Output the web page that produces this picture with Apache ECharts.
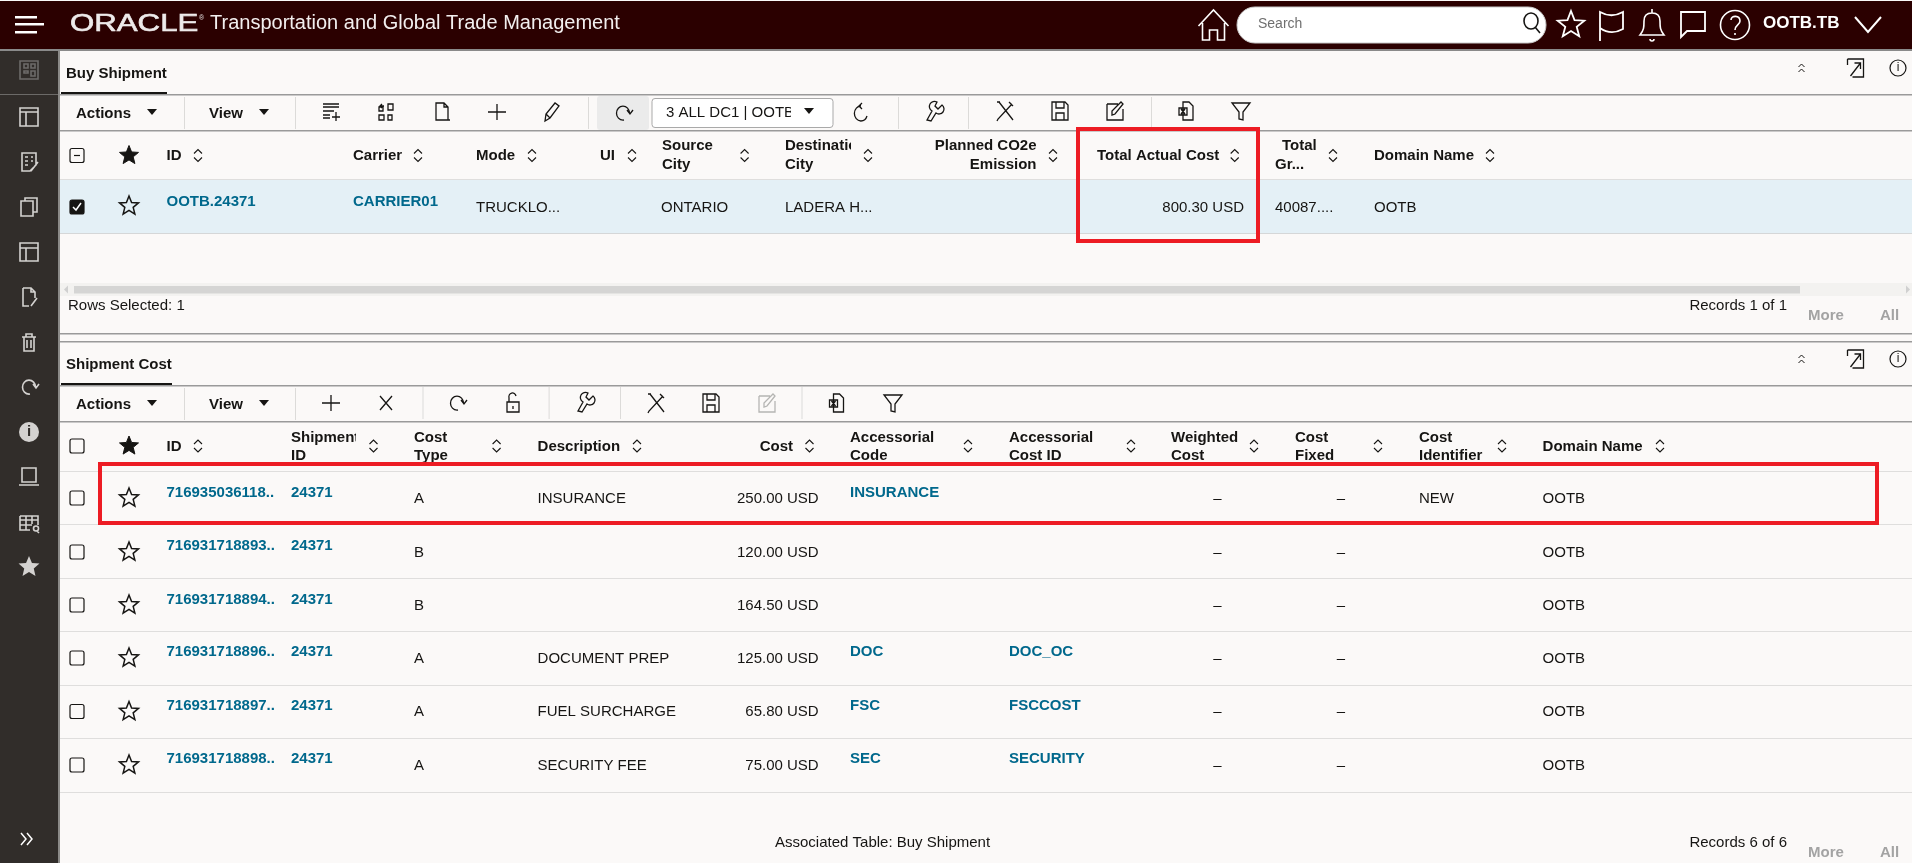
<!DOCTYPE html>
<html><head><meta charset="utf-8">
<style>html,body{margin:0;padding:0;background:#fbf9f8}#c{width:1912px;height:863px}</style>
<script src="https://cdn.jsdelivr.net/npm/echarts@6/dist/echarts.min.js"></script>
</head><body><div id="c"></div>
<script>
// ---------- content ----------
const appTitle = "Transportation and Global Trade Management";
const userName = "OOTB.TB";
const buyHeaders = [["ID"],["Carrier"],["Mode"],["UI"],["Source","City"],["Destinatio","City"],["Planned CO2e","Emission"],["Total Actual Cost"],["Total","Gr..."],["Domain Name"]];
const buyRow = ["OOTB.24371","CARRIER01","TRUCKLO...","","ONTARIO","LADERA H...","","800.30 USD","40087....","OOTB"];
const costHeaders = [["ID"],["Shipment","ID"],["Cost","Type"],["Description"],["Cost"],["Accessorial","Code"],["Accessorial","Cost ID"],["Weighted","Cost"],["Cost","Fixed"],["Cost","Identifier"],["Domain Name"]];
const costIds = ["716935036118..","716931718893..","716931718894..","716931718896..","716931718897..","716931718898.."];
const costShipment = ["24371","24371","24371","24371","24371","24371"];
const costTypes = ["A","B","B","A","A","A"];
const costDescriptions = ["INSURANCE","","","DOCUMENT PREP","FUEL SURCHARGE","SECURITY FEE"];
const costValues = ["250.00 USD","120.00 USD","164.50 USD","125.00 USD","65.80 USD","75.00 USD"];
const accessorialCodes = ["INSURANCE","","","DOC","FSC","SEC"];
const accessorialCostIds = ["","","","DOC_OC","FSCCOST","SECURITY"];
const weightedCost = ["–","–","–","–","–","–"];
const costFixed = ["–","–","–","–","–","–"];
const costIdentifier = ["NEW","","","","",""];
const costDomain = ["OOTB","OOTB","OOTB","OOTB","OOTB","OOTB"];

// ---------- layout ----------
const F = '"Liberation Sans", Arial, sans-serif';
const C = {bar:'#2b0000', side:'#312d2a', bg:'#fbf9f8', ink:'#161513', link:'#00688c', line:'#9a9a9a', row:'#dfdedd', sel:'#e4f0f6', red:'#ed1c24', sideIcon:'#d4d2d0', mute:'#a3a3a3'};
const els = [];
const shapeCache={};
function shapeFor(d){
  if(!shapeCache[d]){
    const n='svgicon'+Object.keys(shapeCache).length;
    echarts.graphic.registerShape(n,echarts.graphic.extendPath(d,{}));
    shapeCache[d]=n;
  }
  return shapeCache[d];
}
const rect=(x,y,w,h,fill,extra={},r=0)=>els.push({type:'rect',shape:{x,y,width:w,height:h,r},style:Object.assign({fill},extra),silent:true});
const T=(x,y,text,o={})=>els.push({type:'text',x,y:y+0.8,scaleX:o.sx||1,style:Object.assign({text,x:0,y:0,fill:o.color||C.ink,font:`${o.bold?'bold ':''}${o.size||15}px ${F}`,textAlign:o.align||'left',textVerticalAlign:'middle'},o.stroke?{stroke:o.stroke,lineWidth:o.lw||0.7}:{}),silent:true});
const P=(x,y,d,o={})=>els.push({type:shapeFor(d),x,y,shape:{},style:{fill:o.fill||'none',stroke:o.stroke===undefined?C.ink:o.stroke,lineWidth:o.lw||1.3},silent:true});
const starPath=(R,r)=>{let s='';for(let i=0;i<10;i++){const a=-Math.PI/2+i*Math.PI/5,q=i%2?r:R;s+=(i?'L':'M')+(q*Math.cos(a)).toFixed(2)+','+(q*Math.sin(a)).toFixed(2);}return s+'Z';};
const I={
 plus:'M-9,0H9M0,-8V8', x:'M-6,-7L6,7M6,-7L-6,7',
 addrow:'M-8,-8H8M-8,-5H8M-8,-1H3M-8,3H-1M-8,6H-1M5,0V9M1,5H9',
 swap:'M-7,-1V-5H-3V-1ZM2,-8H7V-2H2ZM-7,3H-2V8H-7ZM2,3H6V8H2ZM-2,-6H-6M-4,-8L-6,-6L-4,-4',
 doc:'M-6,-9H2L6,-5V8H-6ZM2,-9V-5H6M3,8H8',
 pencil:'M-7,9L-6,2L3,-9L7,-6L-2,6ZM-6,2L-2,6',
 refresh:'M6.5,0A6.5,7 0 1 0 1,7M4,-3L7,1L10,-3',
 reset2:'M0,-7A6.5,7.5 0 1 0 6,3M1,-10L-2,-7L1,-4',
 wrench:'M-7,9L-2,0A5,5 0 0 1 3,-9L1,-5L4,-2L8,-6A5,5 0 0 1 2,2L-3,10Z',
 tools:'M-6,-9L8,9M7,-7L-7,8L-8,10M4,-9L8,-5M-8,-9L-5,-9',
 save:'M-8,-9H5L8,-6V9H-8ZM-4,-9V-3H4V-9M-4,9V2H4V9',
 edit:'M-8,-7H3M-8,-7V9H8V-2M-3,4L-3,0L6,-9L8,-7L0,3Z',
 exportx:'M-3,-9H3L7,-5V9H-3ZM-7,-3H1V4H-7ZM-5,-2L-1,3M-1,-2L-5,3',
 filter:'M-9,-8H9L2,1V9L-2,8V1Z',
 lock:'M-6,-1H6V9H-6ZM-4,-1V-5A3.5,4 0 0 1 3,-7M0,3V6',
 collapse:'M-3,-1L0,-4L3,-1M-3,4L0,1L3,4',
 popout:'M-8,-9H8V9H-3M-8,-9V-3M-5,8L5,-5M-1,-5H5V1',
 sort:'M-4,-2L0,-6L4,-2M-4,2L0,6L4,2',
 home:'M-15,1L0,-15L15,1M-11,-2V15H-4V5H4V15H11V-2',
 mag:'M7,0A7,8 0 1 0 -7,0A7,8 0 1 0 7,0M4,6L9,12',
 flag:'M-11,16V-13C-4,-9 3,-8 12,-13V4C3,9 -4,8 -11,3',
 bell:'M-12,10H12C8,5 8,2 8,-4C8,-10 4,-12 0,-12C-4,-12 -8,-10 -8,-4C-8,2 -8,5 -12,10ZM0,-16V-12M-2,14A2,2 0 0 0 2,14',
 chat:'M-12,-12H12V7H-6L-12,13Z',
 help:'M-4,-5C-4,-10 5,-10 5,-4C5,0 0,0 0,5M0,8V10',
 side1:'M-9,-9H9V9H-9ZM-5,-6H-1V-2H-5ZM2,-6H6V-2H2ZM-5,1H-1V3H-5ZM2,1H6V6H2Z',
 side2:'M-9,-9H9V9H-9ZM-9,-5H9M-3,-5V9',
 side3:'M-7,-9H7V3L1,9H-7ZM-4,-5H-1M2,-5H4M-4,-1H-1M2,-1H4M-4,3H-1M2,9L9,0',
 side4:'M-8,-6H4V9H-8ZM-4,-6V-9H8V5H4',
 side5:'M-9,-9H9V9H-9ZM-9,-4H9M-3,-4V9',
 side6:'M-6,-9H2L6,-5V1M-6,-9V9H0M2,-9V-5H6M2,9L8,1',
 trash:'M-7,-5H7M-5,-5V9H5V-5M-2,-2V6M2,-2V6M-3,-5V-8H3V-5',
 monitor:'M-7,-9H7V5H-7ZM-10,8H10',
 tsearch:'M-9,-7H9V2M-9,-7V7H1M-9,-3H9M-9,2H3M-3,-7V7M3,-7V1M7,8A2.5,2.5 0 1 1 7,3A2.5,2.5 0 1 1 7,8M8,8L10,10',
 dblr:'M-5,-6L0,0L-5,6M1,-6L6,0L1,6'
};
const icon=(n,x,y,o)=>P(x,y,I[n],o);
const sep=(x,y)=>rect(x,y-16,1,32,'#dcdbd9');
const caret=(x,y)=>P(x,y,'M-5,-3H5L0,3Z',{fill:C.ink,stroke:null});
const sortIcon=(x,y)=>icon('sort',x,y,{lw:1.1});
const star=(x,y,filled)=>P(x,y,starPath(10,4.4),filled?{fill:C.ink,lw:1}:{lw:1.5});
const checkbox=(x,y,o={})=>{
  els.push({type:'rect',shape:{x:x-7,y:y-7,width:14,height:14,r:2},style:{fill:o.checked?C.ink:'none',stroke:C.ink,lineWidth:1.2},silent:true});
  if(o.minus)P(x,y,'M-3,0H3',{lw:1.2});
  if(o.checked)P(x,y,'M-4,0L-1,3L4,-4',{stroke:'#fff',lw:1.5});
};
const header=(x,lines,yc,lh,o={})=>{
  if(lines.length===1)T(x,yc,lines[0],{bold:true,align:o.align});
  else{T(x,yc-lh/2,lines[0],{bold:true,align:o.align});T(x,yc+lh/2,lines[1],{bold:true,align:o.align});}
};

// background + chrome
rect(0,0,1912,863,C.bg);
rect(0,1,1912,48,C.bar);
rect(0,49,1912,2,'#8a8a8a');
rect(0,51,58,812,C.side);
rect(58,51,2,812,'#8b8a88');
rect(0,94,58,1,'#6c6a68');
rect(15,16,22,2.5,'#fff');rect(15,23,29,2.5,'#fff');rect(15,31,22,2.5,'#fff');
T(70,23.5,'ORACLE',{size:24,color:'#eeeaea',sx:1.3,stroke:'#eeeaea',lw:0.6});
T(199,17,'®',{size:7,color:'#e6e1e1'});
T(210,23,appTitle,{size:20,color:'#f2eeee'});
icon('home',1213.5,25,{stroke:'#fff',lw:1.6});
els.push({type:'rect',shape:{x:1237,y:7,width:309,height:36,r:18},style:{fill:'#fff',stroke:'#c9c9c9',lineWidth:1},silent:true});
T(1258,23,'Search',{size:14,color:'#6f6f6f'});
P(1531,21,I.mag,{lw:1.6});
P(1571,25,starPath(14,6),{stroke:'#fff',lw:1.8});
icon('flag',1611,25,{stroke:'#fff',lw:1.8});
icon('bell',1652,25,{stroke:'#fff',lw:1.6});
icon('chat',1693,24,{stroke:'#fff',lw:1.8});
els.push({type:'circle',shape:{cx:1735,cy:25,r:14.5},style:{fill:'none',stroke:'#fff',lineWidth:1.6},silent:true});
icon('help',1735,25,{stroke:'#fff',lw:1.6});
T(1763,23,userName,{size:17,bold:true,color:'#fff'});
P(1868,24,'M-13,-7L0,8L13,-7',{stroke:'#fff',lw:2});

// sidebar
const sideIcons=[['side1',70,'#6d6b69'],['side2',117],['side3',162],['side4',207],['side5',252],['side6',297],['trash',342],['refresh',387],null,['monitor',477],['tsearch',523]];
sideIcons.forEach(s=>{if(s)icon(s[0],29,s[1],{stroke:s[2]||C.sideIcon,lw:1.6});});
els.push({type:'circle',shape:{cx:29,cy:432,r:10},style:{fill:C.sideIcon},silent:true});
T(29,431,'i',{size:15,bold:true,color:C.side,align:'center'});
P(29,567,starPath(11,5),{fill:C.sideIcon,stroke:null});
icon('dblr',26,839,{stroke:'#fff',lw:1.5});

// panel scaffolding
function panel(title,y0,ulw){
  T(66,y0,title,{size:15,bold:true});
  rect(61,y0+19,ulw,2,C.ink);
  rect(60,y0+21,1852,1.5,C.line);
  rect(60,y0+57,1852,1.5,C.line);
  icon('collapse',1801.5,y0-5,{lw:1});
  icon('popout',1855.5,y0-5,{lw:1.3});
  els.push({type:'circle',shape:{cx:1898,cy:y0-5,r:8},style:{fill:'none',stroke:C.ink,lineWidth:1.2},silent:true});
  T(1898,y0-6,'i',{size:12,align:'center'});
  const ty=y0+40;
  T(76,ty,'Actions',{bold:true,size:15});caret(152,ty-1);sep(184,ty);
  T(209,ty,'View',{bold:true,size:15});caret(264,ty-1);sep(295,ty);
}

// ---- Buy Shipment
panel('Buy Shipment',73,106);
const t1=113;
[['addrow',331],['swap',386],['doc',442],['plus',497],['pencil',552]].forEach(a=>icon(a[0],a[1],t1-1));
sep(588,t1);
els.push({type:'rect',shape:{x:597,y:96,width:52,height:34,r:3},style:{fill:'#ebebeb'},silent:true});
icon('refresh',623,t1);
els.push({type:'rect',shape:{x:652,y:98.5,width:181,height:29,r:3},style:{fill:'#fff',stroke:'#a9a9a9',lineWidth:1},silent:true});
T(666,t1-1,'3 ALL DC1 | OOTB',{size:15});
rect(791,100,14,26,'#fff');
caret(809,t1-2);
icon('reset2',861,t1);
sep(898,t1);
icon('wrench',934,t1-2);
sep(968,t1);
[['tools',1005],['save',1060],['edit',1115]].forEach(a=>icon(a[0],a[1],t1-2));
sep(1151,t1);
[['exportx',1186],['filter',1241]].forEach(a=>icon(a[0],a[1],t1-2));

// header row
checkbox(77,155.5,{minus:true});star(129,155.5,true);
const bx=[166.5,353,476,600,662,785,null,1097,null,1374];
const bs=[198,418,532,632,744.6,868,1053,1234.7,1333,1490];
buyHeaders.forEach((h,i)=>{
  if(i===6){T(1036.5,145,h[0],{bold:true,align:'right'});T(1036.5,164,h[1],{bold:true,align:'right'});}
  else if(i===8){T(1282,145,h[0],{bold:true});T(1275,164,h[1],{bold:true});}
  else header(bx[i],h,155,19);
  sortIcon(bs[i],155.5);
});
rect(851,136,8,18,C.bg);
rect(60,179,1852,1,C.row);
rect(60,180,1852,53,C.sel);
rect(60,233,1852,1,'#d5d7d8');
checkbox(77,207,{checked:true});star(129,206,false);
buyRow.forEach((v,i)=>{
  if(!v)return;
  if(i<2)T(bx[i],201,v,{bold:true,color:C.link});
  else if(i===7)T(1244,207,v,{align:'right'});
  else if(i===8)T(1275,207,v);
  else T(bx[i]===662?661:bx[i],207,v);
});
// scrollbar + footer
rect(60,283,1852,13,'#f3f2f0');
rect(74,286,1726,7.5,'#d5d5d4');
P(66,289.5,'M2,-4L-2,0L2,4Z',{fill:'#d0d0d0',stroke:null});
P(1908,289.5,'M-2,-4L2,0L-2,4Z',{fill:'#d0d0d0',stroke:null});
T(68,305,'Rows Selected: 1');
T(1787,305,'Records 1 of 1',{align:'right'});
T(1808,315,'More',{bold:true,color:C.mute});
T(1880,315,'All',{bold:true,color:C.mute});
rect(60,333,1852,1.5,C.line);
rect(60,341,1852,1.5,C.line);

// ---- Shipment Cost
panel('Shipment Cost',364,111);
const t2=403;
icon('plus',331,t2);icon('x',386,t2);sep(422.5,t2);
icon('refresh',457,t2);icon('lock',513,t2);sep(548.6,t2);
icon('wrench',585,t2-1);sep(620,t2);
icon('tools',656,t2);icon('save',711,t2);icon('edit',767,t2,{stroke:'#b5b5b3'});sep(801.5,t2);
icon('exportx',836.5,t2);icon('filter',893,t2);

checkbox(77,446);star(129,446,true);
const cx=[166.5,291,414,537.6,null,850,1009,1171,1295,1419,1542.6];
const cs=[198,373.5,496.6,637,809.5,968,1131,1254,1378,1502,1660];
costHeaders.forEach((h,i)=>{
  if(i===4)T(793,446,h[0],{bold:true,align:'right'});
  else header(cx[i],h,446,18);
  sortIcon(cs[i],446);
});
rect(356,428,8,18,C.bg);

const rowLines=[471,524,578,631,685,738,792];
const rowMid=[498,552,605,658,711.5,765];
const rowLink=[492,545,599,651.5,705,758];
rowLines.forEach(y=>rect(60,y,1852,1,C.row));
costIds.forEach((id,i)=>{
  const m=rowMid[i],l=rowLink[i];
  checkbox(77,m);star(129,m,false);
  T(166.5,l,id,{bold:true,color:C.link});
  T(291,l,costShipment[i],{bold:true,color:C.link});
  T(414,m,costTypes[i]);
  if(costDescriptions[i])T(537.6,m,costDescriptions[i]);
  T(818.7,m,costValues[i],{align:'right'});
  if(accessorialCodes[i])T(850,l,accessorialCodes[i],{bold:true,color:C.link});
  if(accessorialCostIds[i])T(1009,l,accessorialCostIds[i],{bold:true,color:C.link});
  T(1217.5,m,weightedCost[i],{align:'center'});
  T(1341,m,costFixed[i],{align:'center'});
  if(costIdentifier[i])T(1419,m,costIdentifier[i]);
  T(1542.6,m,costDomain[i]);
});
T(775,842,'Associated Table: Buy Shipment');
T(1787,842,'Records 6 of 6',{align:'right'});
T(1808,852,'More',{bold:true,color:C.mute});
T(1880,852,'All',{bold:true,color:C.mute});

// red highlight boxes
els.push({type:'rect',shape:{x:1078,y:129,width:180,height:112},style:{fill:'none',stroke:C.red,lineWidth:4},silent:true});
els.push({type:'rect',shape:{x:100,y:464,width:1777,height:59},style:{fill:'none',stroke:C.red,lineWidth:4},silent:true});

const chart=echarts.init(document.getElementById('c'),null,{renderer:'canvas'});
chart.setOption({animation:false,backgroundColor:C.bg,graphic:{elements:els}});
</script></body></html>
